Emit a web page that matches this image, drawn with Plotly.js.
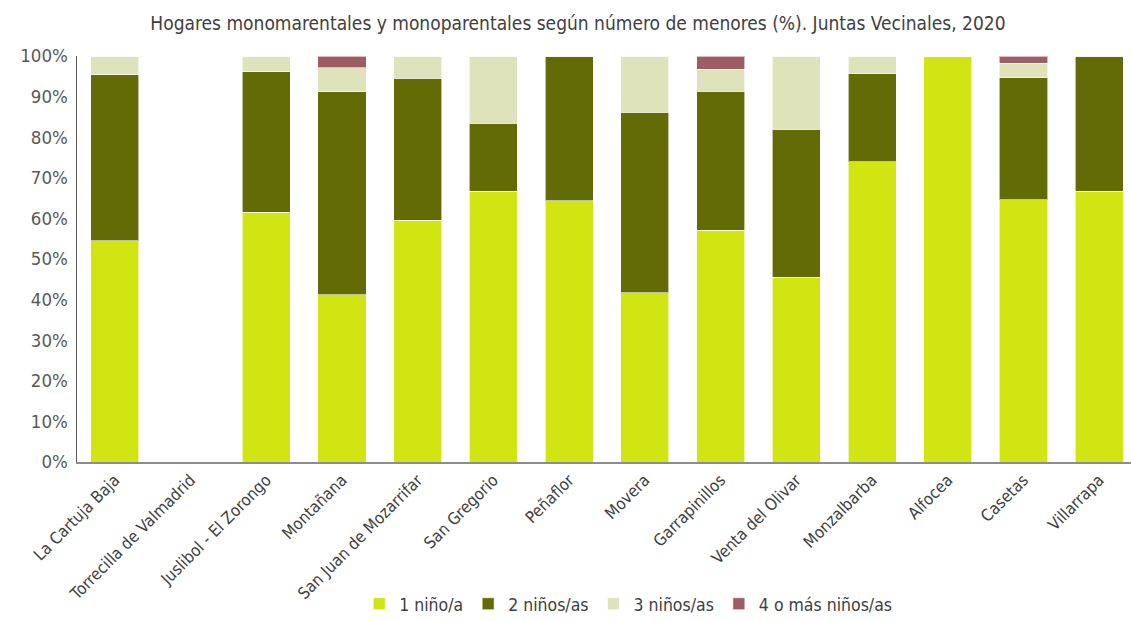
<!DOCTYPE html>
<html><head><meta charset="utf-8">
<script src="https://cdn.plot.ly/plotly-3.0.1.min.js"></script>
<style>html,body{margin:0;padding:0;background:#fff}</style>
</head><body>
<div id="chart" style="width:1131px;height:621px"></div>
<script>
const categories = ["La Cartuja Baja","Torrecilla de Valmadrid","Juslibol - El Zorongo","Montañana","San Juan de Mozarrifar","San Gregorio","Peñaflor","Movera","Garrapinillos","Venta del Olivar","Monzalbarba","Alfocea","Casetas","Villarrapa"];
const uno    = [54.5, null, 61.5, 41.2, 59.5, 66.7, 64.3, 41.7, 57.1, 45.5, 73.9, 100, 64.6, 66.7];
const dos    = [40.9, null, 34.6, 50.0, 35.0, 16.7, 35.7, 44.4, 34.2, 36.4, 21.7, 0, 30.1, 33.3];
const tres   = [4.6, null, 3.9, 5.9, 5.5, 16.6, 0, 13.9, 5.4, 18.1, 4.4, 0, 3.5, 0];
const cuatro = [0, null, 0, 2.9, 0, 0, 0, 0, 3.3, 0, 0, 0, 1.8, 0];
const seriesNames = ["1 niño/a","2 niños/as","3 niños/as","4 o más niños/as"];
const colors = ["#D0E511","#636B06","#DFE3BB","#A05C63"];
const FONT = "'Liberation Sans Narrow','DejaVu Sans Condensed','Roboto Condensed',sans-serif";
const vals = [uno, dos, tres, cuatro];
const traces = vals.map((v,i)=>({
  type:'bar', name:seriesNames[i], x:categories, y:v,
  marker:{color:colors[i], line:{color:'rgba(255,255,255,0.6)', width:1}},
  hovertemplate:'%{x}: %{y:.1f}%<extra>'+seriesNames[i]+'</extra>'
}));
const layout = {
  barmode:'stack', bargap:0.365,
  width:1131, height:621,
  margin:{l:77, r:0, t:56, b:159, autoexpand:false},
  paper_bgcolor:'#fff', plot_bgcolor:'#fff',
  font:{family:FONT, color:'#404040'},
  title:{text:'Hogares monomarentales y monoparentales según número de menores (%). Juntas Vecinales, 2020',
    x:0.511, xanchor:'center', y:0.962, yanchor:'middle', font:{size:19, color:'#404040', family:FONT}},
  xaxis:{type:'category', range:[-0.5, 13.42], tickangle:-45, showline:true, linecolor:'#8c8c8c', linewidth:2,
    ticks:'', tickfont:{size:16.5, color:'#404040', family:FONT}, fixedrange:true},
  yaxis:{range:[0,100], tickvals:[0,10,20,30,40,50,60,70,80,90,100], ticktext:['0%','10%','20%','30%','40%','50%','60%','70%','80%','90%','100%'],
    showgrid:false, zeroline:false, showline:true, linecolor:'#595959', linewidth:1.5, ticks:'',
    tickfont:{size:18.5, color:'#595959', family:FONT}, ticklabelstandoff:4},
  legend:{orientation:'h', x:0.523, xanchor:'center', y:-0.305, yanchor:'top', font:{size:17.5, color:'#404040', family:FONT},
    traceorder:'normal', itemwidth:30}
};
Plotly.newPlot('chart', traces, layout, {displayModeBar:false, staticPlot:true});
</script>
</body></html>
